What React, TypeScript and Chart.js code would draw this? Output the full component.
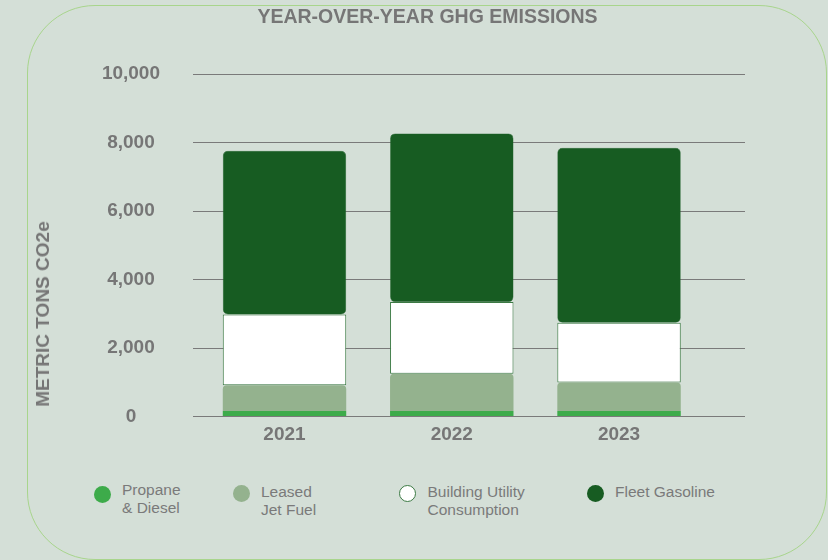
import React, { useEffect, useRef } from "react";
import { Chart, registerables } from "chart.js";

Chart.register(...registerables);

// ---- data ----
const years = ["2021", "2022", "2023"];
const propaneDiesel = [165, 165, 165];
const leasedJetFuel = [750, 1083, 829];
const buildingUtility = [2067, 2094, 1746];
const fleetGasoline = [4775, 4924, 5105];
const yTickValues = [0, 2000, 4000, 6000, 8000, 10000];
const seriesLabels = [
  ["Propane", "& Diesel"],
  ["Leased", "Jet Fuel"],
  ["Building Utility", "Consumption"],
  ["Fleet Gasoline"],
];
const chartTitle = "YEAR-OVER-YEAR GHG EMISSIONS";
const yAxisTitle = "METRIC TONS CO2e";

// ---- styles ----
const BG = "#d4dfd7";
const FONT = "'Liberation Sans', Arial, Helvetica, sans-serif";
const GRAY = "#767676";
const seriesColors = ["#3dab4a", "#94b28e", "#ffffff", "#175c22"];
const seriesBorders = ["#3dab4a", "#94b28e", "#3c7a44", "#2e6b38"];
const legendCenters = [102, 241, 407.5, 595];
const legendTops = [486, 484.5, 484.5, 484.5];
const legendTextTops = [481, 482.7, 482.7, 482.7];

export default function App() {
  const canvasRef = useRef<HTMLCanvasElement | null>(null);

  useEffect(() => {
    const canvas = canvasRef.current;
    if (!canvas) return;
    const toPoints = (arr: number[]) => arr.map((v, i) => ({ x: i, y: v }));
    const chart = new Chart(canvas, {
      type: "bar",
      data: {
        datasets: [
          {
            label: seriesLabels[0].join(" "),
            data: toPoints(propaneDiesel),
            backgroundColor: seriesColors[0],
            borderWidth: 0,
            borderRadius: 0,
          },
          {
            label: seriesLabels[1].join(" "),
            data: toPoints(leasedJetFuel),
            backgroundColor: seriesColors[1],
            borderWidth: 0,
            borderSkipped: false,
            borderRadius: { topLeft: 4, topRight: 4, bottomLeft: 0, bottomRight: 0 },
          },
          {
            label: seriesLabels[2].join(" "),
            data: toPoints(buildingUtility),
            backgroundColor: seriesColors[2],
            borderColor: seriesBorders[2],
            borderWidth: 1,
            borderSkipped: false,
            borderRadius: 6,
          },
          {
            label: seriesLabels[3].join(" "),
            data: toPoints(fleetGasoline),
            backgroundColor: seriesColors[3],
            borderColor: seriesBorders[3],
            borderWidth: 0.5,
            borderSkipped: false,
            borderRadius: 5,
          },
        ] as any,
      },
      options: {
        animation: false,
        responsive: false,
        maintainAspectRatio: false,
        layout: { padding: 0 },
        datasets: {
          bar: { categoryPercentage: 1, barPercentage: 0.738 },
        } as any,
        plugins: {
          legend: { display: false },
          tooltip: { enabled: false },
          title: {
            display: true,
            text: chartTitle,
            color: GRAY,
            font: { family: FONT, size: 19.5, weight: "bold" },
            padding: { top: 5.5, bottom: 45.1 },
          },
        },
        scales: {
          x: {
            type: "linear",
            stacked: true,
            offset: false,
            min: -0.547,
            max: 2.753,
            grid: { display: false, drawTicks: false, offset: false },
            border: { display: false },
            afterBuildTicks: (scale: any) => {
              scale.ticks = years.map((_, i) => ({ value: i }));
            },
            ticks: {
              padding: 7,
              color: GRAY,
              font: { family: FONT, size: 19, weight: "bold" },
              callback: (v: any) => years[v as number] ?? "",
            },
          },
          y: {
            type: "linear",
            stacked: true,
            min: 0,
            max: 10000,
            grid: { color: "#7a7a7a", lineWidth: 1, drawTicks: false },
            border: { display: false },
            afterBuildTicks: (scale: any) => {
              scale.ticks = yTickValues.map((v) => ({ value: v }));
            },
            afterFit: (scale: any) => {
              scale.width = 166;
            },
            ticks: {
              padding: 33,
              crossAlign: "center",
              color: GRAY,
              font: { family: FONT, size: 19, weight: "bold" },
              callback: (v: any) => Number(v).toLocaleString("en-US"),
            },
          },
          yRight: {
            type: "linear",
            position: "right",
            display: true,
            grid: { display: false, drawTicks: false },
            border: { display: false },
            ticks: { display: false },
            afterFit: (scale: any) => {
              scale.width = 83;
            },
          },
        } as any,
      },
    });
    return () => chart.destroy();
  }, []);

  return (
    <div
      style={{
        position: "fixed",
        left: 0,
        top: 0,
        width: 828,
        height: 560,
        background: BG,
        overflow: "hidden",
        fontFamily: FONT,
      }}
    >
      <div
        style={{
          position: "absolute",
          left: 27,
          top: 5,
          width: 800,
          height: 555,
          boxSizing: "border-box",
          border: "1px solid #a8d58c",
          borderRadius: 68,
        }}
      />
      <canvas
        ref={canvasRef}
        width={801}
        height={461}
        style={{ position: "absolute", left: 27, top: 0, width: 801, height: 461 }}
      />
      <div
        style={{
          position: "absolute",
          left: 43,
          top: 314,
          transform: "translate(-50%, -50%) rotate(-90deg)",
          whiteSpace: "nowrap",
          fontWeight: "bold",
          fontSize: 19,
          color: GRAY,
        }}
      >
        {yAxisTitle}
      </div>
      {seriesLabels.map((lines, i) => (
        <React.Fragment key={i}>
          <div
            style={{
              position: "absolute",
              left: legendCenters[i] - 8.5,
              top: legendTops[i],
              width: 17,
              height: 17,
              boxSizing: "border-box",
              borderRadius: "50%",
              background: seriesColors[i],
              border: i === 2 ? `1.5px solid ${seriesBorders[2]}` : "none",
            }}
          />
          <div
            style={{
              position: "absolute",
              left: legendCenters[i] + 20,
              top: legendTextTops[i],
              fontSize: 15.5,
              lineHeight: "18px",
              color: "#7a7a7a",
              whiteSpace: "nowrap",
            }}
          >
            {lines.map((t, j) => (
              <div key={j}>{t}</div>
            ))}
          </div>
        </React.Fragment>
      ))}
    </div>
  );
}
